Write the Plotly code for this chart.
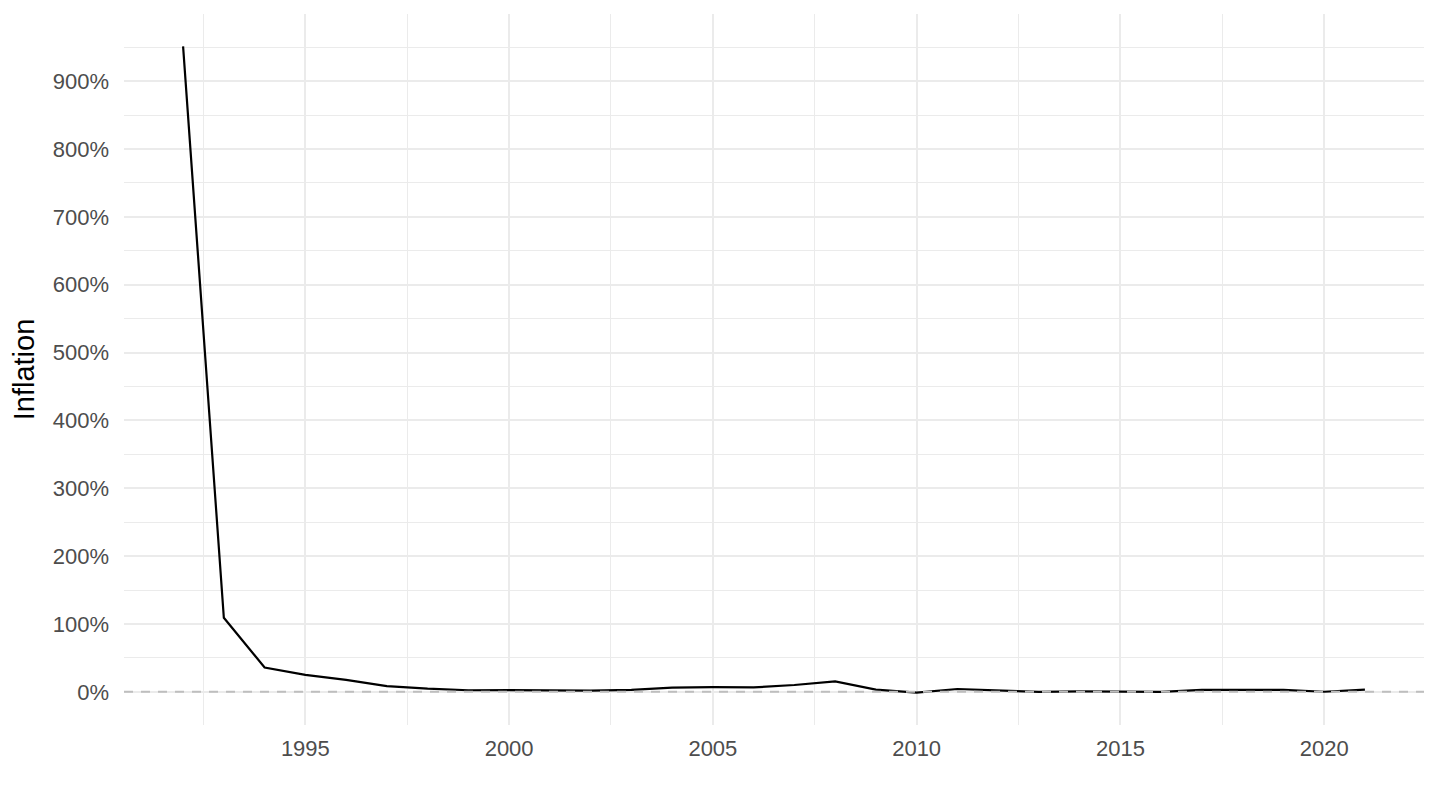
import plotly.graph_objects as go

years = list(range(1992, 2022))
inflation = [951.2, 109.2, 35.9, 25.0, 17.6, 8.4, 4.7, 2.4, 2.6, 2.5,
             1.9, 2.9, 6.2, 6.9, 6.6, 10.1, 15.3, 3.3, -1.2, 4.2,
             2.3, 0.0, 0.6, 0.2, 0.1, 2.9, 2.5, 2.8, 0.2, 3.3]

x_ticks = [1995, 2000, 2005, 2010, 2015, 2020]
y_ticks = [0, 100, 200, 300, 400, 500, 600, 700, 800, 900]
y_labels = [f"{v}%" for v in y_ticks]

xmin, xmax = min(years), max(years)
ymin, ymax = min(inflation), max(inflation)
xpad = 0.05 * (xmax - xmin)
ypad = 0.05 * (ymax - ymin)

fig = go.Figure()
fig.add_trace(go.Scatter(x=years, y=inflation, mode="lines",
                         line=dict(color="black", width=2.2), showlegend=False))
fig.add_trace(go.Scatter(x=[xmin - xpad, xmax + xpad], y=[0, 0], mode="lines",
                         line=dict(color="#BEBEBE", width=2, dash="9px,8px"),
                         showlegend=False, hoverinfo="skip"))

grid = "#EBEBEB"
fig.update_layout(
    width=1440, height=810,
    paper_bgcolor="white", plot_bgcolor="white",
    margin=dict(l=116, r=24, t=6, b=93),
    font=dict(family="Liberation Sans, Arial, sans-serif", size=22, color="#4D4D4D"),
    xaxis=dict(range=[xmin - xpad, xmax + xpad], tickvals=x_ticks,
               showgrid=True, gridcolor=grid, gridwidth=2, zeroline=False,
               showline=False, ticks="", ticklabelstandoff=8, automargin=False,
               minor=dict(tickvals=[1992.5, 1997.5, 2002.5, 2007.5, 2012.5, 2017.5, 2022.5],
                          showgrid=True, gridcolor=grid, gridwidth=1)),
    yaxis=dict(range=[ymin - ypad, ymax + ypad], tickvals=y_ticks, ticktext=y_labels,
               showgrid=True, gridcolor=grid, gridwidth=2, zeroline=False,
               showline=False, ticks="", ticklabelstandoff=14, automargin=False,
               title=dict(text="Inflation", font=dict(size=29, color="black"), standoff=14),
               minor=dict(tickvals=[50, 150, 250, 350, 450, 550, 650, 750, 850, 950],
                          showgrid=True, gridcolor=grid, gridwidth=1)),
)

fig.write_html("out.html")
